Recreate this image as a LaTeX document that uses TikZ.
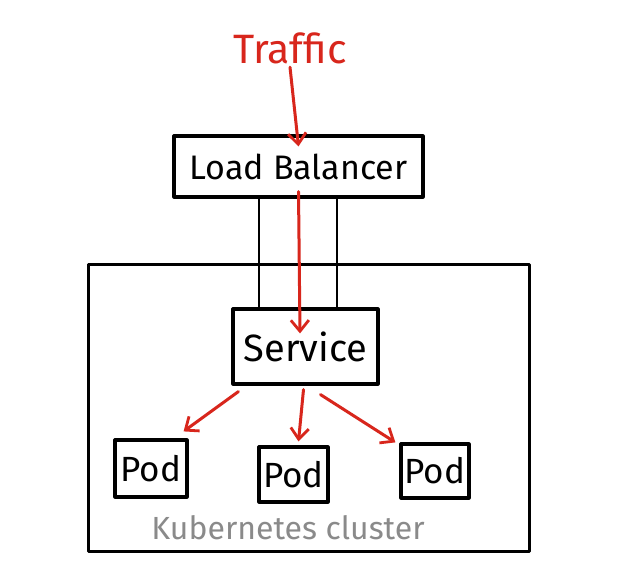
\documentclass[tikz,border=0pt]{standalone}
\usepackage{fontspec}
\setmainfont{Fira Sans}
\usetikzlibrary{arrows.meta,calc}
\definecolor{sketchred}{HTML}{D8261C}
\definecolor{sketchgray}{HTML}{8A8A8A}
\begin{document}
\begin{tikzpicture}[x=1pt,y=-1pt,
  box/.style={draw=black,line width=3.2pt,inner sep=0pt,line join=round},
  thin/.style={draw=black,line width=2.2pt},
  flow/.style={draw=sketchred,line width=3pt,line cap=round,-{Straight Barb[length=11pt,width=18pt,line width=2.8pt]}},
  lbl/.style={font=\fontsize{34}{36}\selectfont},
  podlbl/.style={font=\fontsize{35}{37}\selectfont}]
\useasboundingbox (0,0) rectangle (627,580);
\fill[white] (0,0) rectangle (627,580);
% cluster
\node[box,line width=3pt,minimum width=441pt,minimum height=286pt] (cluster) at (308.5,408) {};
\node[font=\fontsize{32}{34}\selectfont,text=sketchgray] (klabel) at (288,528) {Kubernetes cluster};
% nodes
\node[text=sketchred,font=\fontsize{41}{43}\selectfont] (traffic) at (290,48) {Traffic};
\node[box,fill=white,minimum width=249pt,minimum height=61pt,lbl] (lb) at (298.5,166.5) {Load Balancer};
\node[box,fill=white,minimum width=145pt,minimum height=75pt,font=\fontsize{38}{40}\selectfont] (svc) at (305.5,346.5) {Service};
\node[box,minimum width=72pt,minimum height=57pt,podlbl] (pod1) at (151,468.5) {Pod};
\node[box,minimum width=69pt,minimum height=55pt,podlbl] (pod2) at (293.5,474.5) {Pod};
\node[box,minimum width=68pt,minimum height=54pt,podlbl] (pod3) at (435,471) {Pod};
% lb to service lines
\draw[thin] ([xshift=-39.5pt]lb.south) -- ([xshift=-39.5pt]lb.south |- svc.north);
\draw[thin] ([xshift=38.5pt]lb.south) -- ([xshift=38.5pt]lb.south |- svc.north);
% red flow
\draw[flow] (traffic.south) -- ([yshift=-12pt]lb.north);
\draw[flow] ([yshift=7pt]lb.south) -- ([shift={(-5.5,26)}]svc.north);
\draw[flow] ([shift={(7,6)}]svc.south west) -- ([shift={(-5,-7)}]pod1.north east);
\draw[flow] ([shift={(-2,4)}]svc.south) -- ([shift={(5,-4)}]pod2.north);
\draw[flow] ([shift={(15,9)}]svc.south) -- ([shift={(-4,0)}]pod3.north west);
\end{tikzpicture}
\end{document}
